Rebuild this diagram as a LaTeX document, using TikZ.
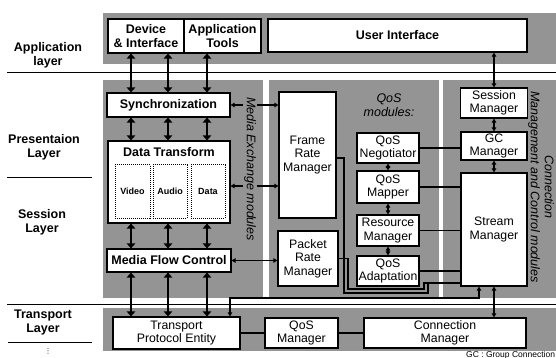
\documentclass[tikz,border=0pt]{standalone}
\usepackage{fontspec}
\setmainfont{Liberation Sans}
\newfontfamily\symfont{DejaVu Sans}
\usetikzlibrary{arrows.meta}
\definecolor{shade}{gray}{0.58}
\newcommand{\fntreg}{\fontsize{12.3}{13.5}\selectfont}
\newcommand{\fntbold}{\fontsize{12.5}{14}\selectfont\bfseries}
\newcommand{\fntital}{\fontsize{12.5}{14}\selectfont\itshape}
\newcommand{\fntsmall}{\fontsize{9}{10}\selectfont\bfseries}
\newcommand{\fntnote}{\fontsize{8.5}{10}\selectfont}
\tikzset{
  >={Triangle[length=4pt,width=4.5pt]},
  module/.style={draw, line width=1.2pt, fill=white, inner sep=1pt,
                 align=center, font=\fntreg},
  boldmod/.style={module, font=\fntbold},
  media/.style={draw, densely dotted, line width=1pt, fill=white,
                inner sep=0pt, font=\fntsmall},
  region/.style={fill=shade},
  pipe/.style={line width=2.6pt,
               {Triangle[length=5pt,width=8.5pt]}-{Triangle[length=5pt,width=8.5pt]}},
  link/.style={line width=1.1pt},
  layer/.style={font=\fntbold, align=center},
  rule/.style={line width=0.8pt},
}

\begin{document}
\begin{tikzpicture}[x=1pt, y=-1pt]
    \useasboundingbox (0,0) rectangle (556,358);
    \clip (0,0) rectangle (556,358);
    \fill[region] (103,13) rectangle (556,64);
    \fill[region] (103,80) rectangle (263,298);
    \fill[region] (269,80) rectangle (439,298);
    \fill[region] (443,80) rectangle (556,298);
    \fill[region] (103,308) rectangle (556,351);

    \draw[rule] (7,72) -- (556,72);
    \draw[rule] (7,177) -- (92,177);
    \draw[rule] (7,304) -- (556,304);
    \draw[rule] (8,342) -- (92,342);

    \node[layer] (applay) at (48,55) {Application\\layer};
    \node[layer] (preslay) at (44,147) {Presentaion\\Layer};
    \node[layer] (seslay) at (42,222.5) {Session\\Layer};
    \node[layer] (translay) at (43,322.5) {Transport\\Layer};
    \node[font=\symfont\fontsize{7}{7}\selectfont, inner sep=0pt] (more) at (48,351) {⋮};

    \node[boldmod, minimum width=76pt, minimum height=34pt] (dev) at (146,36) {Device\\\& Interface};
    \node[boldmod, minimum width=77pt, minimum height=34pt] (apptools) at (222.5,36) {Application\\Tools};
    \node[boldmod, minimum width=259pt, minimum height=33pt] (ui) at (397.5,35.5) {User Interface};

    \node[boldmod, minimum width=123pt, minimum height=24pt] (sync) at (168.5,105) {Synchronization};
    \node[module, minimum width=122pt, minimum height=82pt] (dt) at (169,182) {};
    \node[font=\fntbold] (dtlabel) at (169,152) {Data Transform};
    \node[media, minimum width=35pt, minimum height=53pt] (video) at (132.5,191.5) {Video};
    \node[media, minimum width=34pt, minimum height=53pt] (audio) at (170,191.5) {Audio};
    \node[media, minimum width=34pt, minimum height=53pt] (data) at (208,191.5) {Data};
    \node[boldmod, minimum width=124pt, minimum height=23pt] (mfc) at (169,260.5) {Media Flow Control};

    \node[module, minimum width=57pt, minimum height=126pt] (frm) at (307.5,155) {Frame\\Rate\\Manager};
    \node[module, minimum width=60pt, minimum height=55pt] (prm) at (308,258.5) {Packet\\Rate\\Manager};
    \node[font=\fntital, align=center] (qoslabel) at (389,105) {QoS\\modules:};
    \node[module, minimum width=62pt, minimum height=30pt] (neg) at (388,148) {QoS\\Negotiator};
    \node[module, minimum width=62pt, minimum height=32pt] (map) at (388,187) {QoS\\Mapper};
    \node[module, minimum width=62pt, minimum height=31pt] (res) at (388,230.5) {Resource\\Manager};
    \node[module, minimum width=62pt, minimum height=30pt] (adp) at (388,271) {QoS\\Adaptation};

    \node[module, minimum width=67pt, minimum height=30pt] (sess) at (494,103) {Session\\Manager};
    \node[module, minimum width=66pt, minimum height=28pt] (gc) at (494,146) {GC\\Manager};
    \node[module, minimum width=66pt, minimum height=113pt] (stream) at (494,229.5) {Stream\\Manager};

    \node[module, minimum width=127pt, minimum height=32pt] (tpe) at (176.5,333) {Transport\\Protocol Entity};
    \node[module, minimum width=73pt, minimum height=30pt] (qosm) at (301.5,333) {QoS\\Manager};
    \node[module, minimum width=162pt, minimum height=30pt] (conn) at (445,333) {Connection\\Manager};

    \coordinate (c1) at (131,0);
    \coordinate (c2) at (168,0);
    \coordinate (c3) at (207,0);
    \foreach \c/\top in {c1/dev, c2/dev, c3/apptools} {
        \draw[pipe] (\top.south -| \c) -- (sync.north -| \c);
        \draw[pipe] (sync.south -| \c) -- (dt.north -| \c);
        \draw[pipe] (dt.south -| \c) -- (mfc.north -| \c);
        \draw[pipe] (mfc.south -| \c) -- (tpe.north -| \c);
    }

    \draw[link, <->] (sync.east) -- (sync.east -| frm.west);
    \draw[link, <->] ([yshift=-4pt]dt.east) -- ([yshift=-4pt]dt.east -| frm.west);
    \draw[link, <->] (mfc.east) -- (mfc.east -| prm.west);
    \node[rotate=-90, font=\fntital, fill=shade, inner sep=1pt] (mexlabel) at (250,169) {Media Exchange modules};

    \coordinate (fk) at (428,283);
    \draw[link] ([yshift=-3pt]frm.east) -| (344,293) -| (fk) -- (fk -| stream.west);
    \draw[link] (prm.east) -| (348,289) -| (424,283) -- (fk);

    \draw[link, <->] (neg) -- (map);
    \draw[link, <->] (map) -- (res);
    \draw[link, <->] (res) -- (adp);
    \draw[link] (neg.east) -- (neg.east -| gc.west);
    \draw[link] (map.east) -- (map.east -| stream.west);
    \draw[link] (res.east) -- (res.east -| stream.west);
    \draw[link] (adp.east) -- (adp.east -| stream.west);

    \draw[link, <->] (sess.north) -- (sess.north |- ui.south);
    \draw[link, <->] (sess) -- (gc);
    \draw[link, <->] (gc) -- (stream);
    \draw[link, <->] (stream.south) -- (stream.south |- conn.north);
    \node[rotate=-90, font=\fntital, align=center] (cmlabel) at (541,187) {Connection\\Management and Control modules};

    \draw[link] (tpe) -- (qosm);
    \draw[link] (qosm) -- (conn);
    \coordinate (tk) at (230,298);
    \coordinate (sk) at (479,298);
    \draw[link, <->] (tpe.north -| tk) -- (tk) -- (sk) -- (sk |- stream.south);

    \node[anchor=north west, font=\fntnote, inner sep=0pt] (gcnote) at (466,351) {GC : Group Connection};
\end{tikzpicture}
\end{document}
